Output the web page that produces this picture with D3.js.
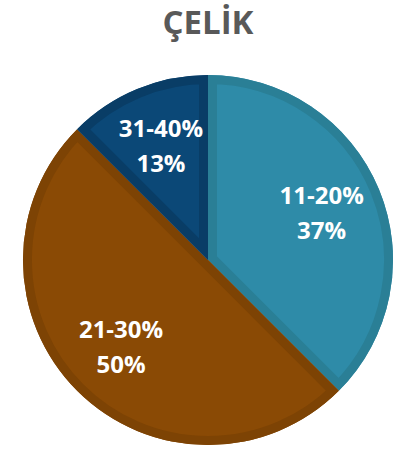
<!DOCTYPE html>
<html><head><meta charset="utf-8">
<script src="https://cdn.jsdelivr.net/npm/d3@7"></script>
<style>body{margin:0;background:#fff}svg{display:block}</style>
</head><body>
<svg id="c" width="406" height="449"></svg>
<script>
const title = "ÇELİK";
const categories = ["11-20%", "21-30%", "31-40%"];
const values = [37.5, 50, 12.5];
const valueLabels = ["37%", "50%", "13%"];
const fills = ["#2E8BA8", "#8A4A05", "#0B4877"];
const borders = ["#2A7F96", "#7D4304", "#093D66"];

const svg = d3.select("#c");
const cx = 208, cy = 260, R = 185;

svg.append("text").attr("x", 208).attr("y", 34).attr("text-anchor", "middle")
  .attr("font-family", "'Open Sans', sans-serif").attr("font-weight", 700)
  .attr("font-size", 33).attr("fill", "#595959").text(title);

const pie = d3.pie().sort(null).value(d => d)(values);
const arc = d3.arc().innerRadius(0).outerRadius(R);
const labelArc = d3.arc().innerRadius(123).outerRadius(123);

const defs = svg.append("defs");
const g = svg.append("g").attr("transform", `translate(${cx},${cy})`);

pie.forEach((p, i) => {
  defs.append("clipPath").attr("id", "clip" + i).append("path").attr("d", arc(p));
  g.append("path").attr("d", arc(p)).attr("fill", fills[i]);
  g.append("path").attr("d", arc(p)).attr("fill", "none")
    .attr("stroke", borders[i]).attr("stroke-width", 18)
    .attr("stroke-linejoin", "miter")
    .attr("clip-path", `url(#clip${i})`);
});

pie.forEach((p, i) => {
  const [lx, ly] = labelArc.centroid(p);
  const t = g.append("text").attr("text-anchor", "middle")
    .attr("font-family", "'Open Sans', sans-serif").attr("font-weight", 700)
    .attr("font-size", 24).attr("fill", "#fff");
  t.append("tspan").attr("x", lx).attr("y", ly - 9).text(categories[i]);
  t.append("tspan").attr("x", lx).attr("y", ly + 26).text(valueLabels[i]);
});
</script>
</body></html>
